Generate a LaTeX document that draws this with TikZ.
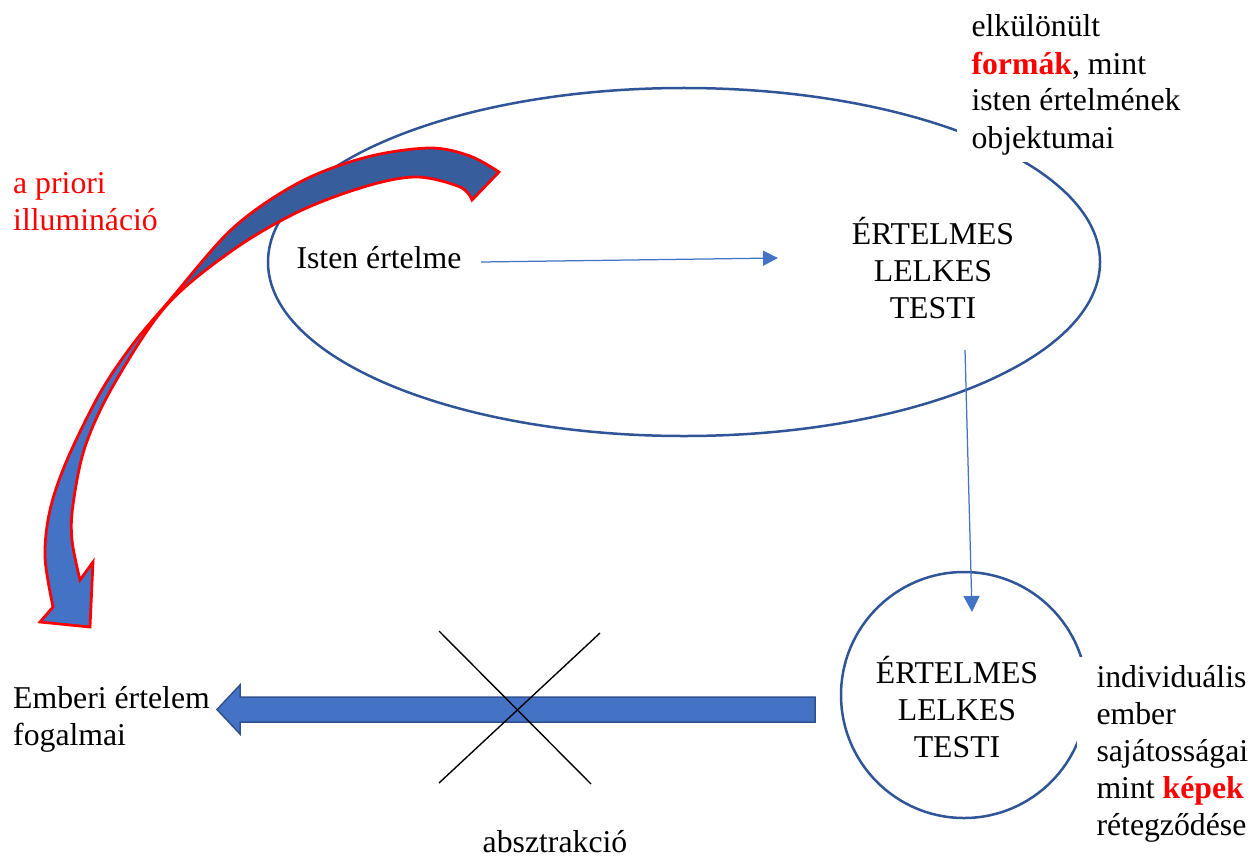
\documentclass[tikz,border=0pt]{standalone}
\usepackage{fontspec}
\setmainfont{Liberation Serif}
\usetikzlibrary{arrows.meta,shapes.geometric}
\definecolor{ellblue}{HTML}{2F5597}
\definecolor{accent}{HTML}{4472C4}
\definecolor{accentdark}{HTML}{2F528F}
\definecolor{ribdark}{HTML}{385D9C}
\definecolor{pptred}{HTML}{FF0000}
\def\curvedArrowPath{(499,172) -- plot[smooth,tension=0.55] coordinates {(499,172) (470,156) (430,148) (367,157) (300,182) (233,228) (170,300) (133,344) (100,393) (67,460) (50,510) (45,557) (53,607)} -- (40,622) -- (90,627) -- (93,562) -- plot[smooth,tension=0.55] coordinates {(80,580) (72,540) (73,505) (85,447) (113,386) (166,306) (233,250) (300,211) (367,186) (417,177) (460,187) (472,200)} -- cycle}
\begin{document}
\begin{tikzpicture}[x=0.4pt,y=-0.4pt,
  font=\fontsize{12.7}{14.8}\selectfont,
  txt/.style={inner sep=0pt, align=left, anchor=base west},
  ctxt/.style={inner sep=0pt, align=center, anchor=base},
  outline/.style={draw=ellblue, line width=1pt, inner sep=0pt},
  thinarrow/.style={draw=accent, line width=0.5pt, -{Triangle[length=6pt,width=6pt]}},
  crossline/.style={draw=black, line width=0.55pt},
  hot/.style={text=pptred}]
\useasboundingbox (0,0) rectangle (1250,859);

% big ellipse
\node[outline, ellipse, minimum width=332.8pt, minimum height=139.2pt] (god) at (684,262) {};

% curved arrow (a priori illumination)
\fill[accent] \curvedArrowPath;
\begin{scope}
  \clip (-70,102) -- (530,602) -- (1250,602) -- (1250,-10) -- (-70,-10) -- cycle;
  \fill[ribdark] \curvedArrowPath;
\end{scope}
\draw[pptred, line width=1.1pt, line join=miter] \curvedArrowPath;

% small circle
\node[outline, circle, minimum size=98.4pt] (man) at (964,695) {};

% text boxes (anchored at the baseline of their last line)
\node[txt, fill=white, inner xsep=6pt, inner ysep=3pt] (forms) at (956,148)
  {elkülönült\\\textcolor{pptred}{\textbf{formák}}, mint\\isten értelmének\\objektumai};
\node[txt, fill=white, inner xsep=8pt, inner ysep=3pt] (images) at (1076,835)
  {individuális\\ember\\sajátosságai\\mint \textcolor{pptred}{\textbf{képek}}\\rétegződése};

\node[txt] (isten) at (296,268) {Isten értelme};
\node[txt, hot] (apriori) at (12.7,230) {a priori\\illumináció};
\node[txt] (emberi) at (12.7,745) {Emberi értelem\\fogalmai};
\node[ctxt] (absz) at (555,852) {absztrakció};
\node[ctxt] (godtext) at (933,318) {ÉRTELMES\\LELKES\\TESTI};
\node[ctxt] (mantext) at (957,757) {ÉRTELMES\\LELKES\\TESTI};

% thin connectors
\coordinate (h1) at (481,262);
\coordinate (h2) at (778,258);
\draw[thinarrow] (h1) -- (h2);
\coordinate (v1) at (965,350);
\coordinate (v2) at (972,612);
\draw[draw=accent, line width=0.5pt, -{Triangle[length=6.4pt,width=6.4pt]}] (v1) -- (v2);

% block arrow (abstraction)
\draw[fill=accent, draw=accentdark, line width=0.6pt, line join=miter]
  (815,697) -- (240,697) -- (240,685) -- (217,709.5) -- (240,734) -- (240,722) -- (815,722) -- cycle;

% cross
\coordinate (c1) at (439,631);
\coordinate (c2) at (591,784);
\coordinate (c3) at (600,633);
\coordinate (c4) at (439,783);
\draw[crossline] (c1) -- (c2);
\draw[crossline] (c3) -- (c4);
\end{tikzpicture}
\end{document}
